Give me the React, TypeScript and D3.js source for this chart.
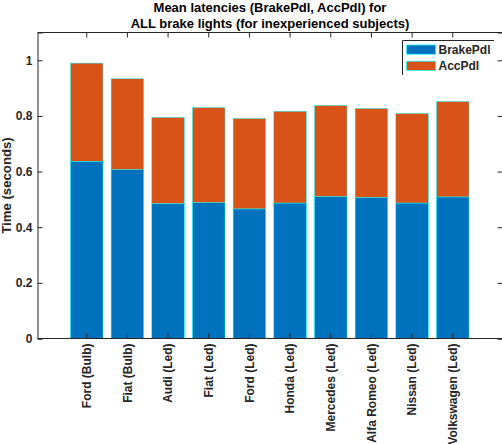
import { useRef, useEffect } from "react";
import * as d3 from "d3";

const categories = [
  "Ford (Bulb)",
  "Fiat (Bulb)",
  "Audi (Led)",
  "Fiat (Led)",
  "Ford (Led)",
  "Honda (Led)",
  "Mercedes (Led)",
  "Alfa Romeo (Led)",
  "Nissan (Led)",
  "Volkswagen (Led)",
];
const brakePdl = [0.637, 0.607, 0.485, 0.488, 0.466, 0.487, 0.51, 0.507, 0.487, 0.509];
const accPdl = [0.353, 0.327, 0.31, 0.342, 0.325, 0.33, 0.328, 0.32, 0.322, 0.343];
const seriesNames = ["BrakePdl", "AccPdl"];
const seriesColors = ["#0072bd", "#d95319"];
const yTicks = [0, 0.2, 0.4, 0.6, 0.8, 1];
const titleLines = ["Mean latencies (BrakePdl, AccPdl) for", "ALL brake lights (for inexperienced subjects)"];

export default function App() {
  const svgRef = useRef<SVGSVGElement>(null);

  useEffect(() => {
    if (!svgRef.current) return;
    const width = 502;
    const height = 444;
    const left = 37.5;
    const right = 502.5;
    const top = 32.5;
    const bottom = 338.5;
    const ink = "#262626";
    const font = "'Liberation Sans', Arial, Helvetica, sans-serif";

    const svg = d3.select(svgRef.current);
    svg.selectAll("*").remove();
    svg.attr("width", width).attr("height", height).attr("viewBox", `0 0 ${width} ${height}`);
    svg.append("rect").attr("width", width).attr("height", height).attr("fill", "#fff");

    const rows = categories.map((c, i) => ({ name: c, BrakePdl: brakePdl[i], AccPdl: accPdl[i] }));
    const stacked = d3.stack<any>().keys(seriesNames)(rows);

    const x = d3.scaleBand().domain(categories).range([66.4, 473.1]).paddingInner(0.2).paddingOuter(0.1);
    const y = d3.scaleLinear().domain([0, 1.1]).range([bottom, top]);

    // bars, thin cyan edges
    stacked.forEach((layer, k) => {
      svg
        .append("g")
        .selectAll("rect")
        .data(layer)
        .join("rect")
        .attr("x", (d) => x(d.data.name) ?? 0)
        .attr("y", (d) => y(d[1]))
        .attr("width", x.bandwidth())
        .attr("height", (d) => y(d[0]) - y(d[1]))
        .attr("fill", seriesColors[k])
        .attr("stroke", "#00ffff")
        .attr("stroke-width", 0.5);
    });

    // y axis (left, inward ticks)
    const yAxis = svg
      .append("g")
      .attr("transform", `translate(${left},0)`)
      .call(d3.axisLeft(y).tickValues(yTicks).tickSize(-5).tickPadding(5).tickFormat((d) => d3.format("~g")(d as number)));
    yAxis.select(".domain").attr("stroke", ink);
    yAxis.selectAll("line").attr("stroke", ink);
    yAxis.selectAll("text").style("font-family", font).style("font-size", "12px").style("font-weight", "bold").attr("fill", ink);

    // right mirror
    const yAxisR = svg
      .append("g")
      .attr("transform", `translate(${right},0)`)
      .call(d3.axisRight(y).tickValues(yTicks).tickSize(-5).tickFormat(() => ""));
    yAxisR.selectAll("path, line").attr("stroke", ink);

    // x axis (bottom)
    const xAxis = svg
      .append("g")
      .attr("transform", `translate(0,${bottom})`)
      .call(d3.axisBottom(x).tickSize(-5).tickSizeOuter(0));
    xAxis.select(".domain").attr("stroke", ink).attr("d", `M${left},0H${right}`);
    xAxis.selectAll("line").attr("stroke", ink);
    xAxis
      .selectAll("text")
      .attr("transform", "rotate(-90)")
      .attr("text-anchor", "end")
      .attr("x", -5)
      .attr("y", 0)
      .attr("dy", "0.35em")
      .style("font-family", font)
      .style("font-size", "12px")
      .style("font-weight", "bold")
      .attr("fill", ink);

    // top mirror
    const xAxisT = svg
      .append("g")
      .attr("transform", `translate(0,${top})`)
      .call(d3.axisTop(x).tickSize(-5).tickSizeOuter(0).tickFormat(() => ""));
    xAxisT.select(".domain").attr("stroke", ink).attr("d", `M${left},0H${right}`);
    xAxisT.selectAll("line").attr("stroke", ink);

    // y label
    svg
      .append("text")
      .attr("transform", `translate(10.5,${(top + bottom) / 2}) rotate(-90)`)
      .attr("text-anchor", "middle")
      .style("font-family", font)
      .style("font-size", "13.2px")
      .style("font-weight", "bold")
      .attr("fill", ink)
      .text("Time (seconds)");

    // title
    svg
      .append("g")
      .selectAll("text")
      .data(titleLines)
      .join("text")
      .attr("x", (left + right) / 2)
      .attr("y", (_, i) => 11.5 + i * 16)
      .attr("text-anchor", "middle")
      .style("font-family", font)
      .style("font-size", "13px")
      .style("font-weight", "bold")
      .attr("fill", "#000")
      .text((d) => d);

    // legend
    const lg = svg.append("g");
    lg.append("path").attr("d", "M402.5,40.5V75M402.5,40.5H494").attr("stroke", ink).attr("fill", "none");
    const items = lg
      .selectAll("g")
      .data(seriesNames)
      .join("g")
      .attr("transform", (_, i) => `translate(0,${i * 16.2})`);
    items
      .append("rect")
      .attr("x", 406.7)
      .attr("y", 45)
      .attr("width", 29)
      .attr("height", 9.2)
      .attr("fill", (_, i) => seriesColors[i])
      .attr("stroke", "#00ffff")
      .attr("stroke-width", 0.7);
    items
      .append("text")
      .attr("x", 438.5)
      .attr("y", 54)
      .style("font-family", font)
      .style("font-size", "12px")
      .style("font-weight", "bold")
      .attr("fill", ink)
      .text((d) => d);
  }, []);

  return <svg ref={svgRef} style={{ position: "absolute", left: 0, top: 0, display: "block" }} />;
}
